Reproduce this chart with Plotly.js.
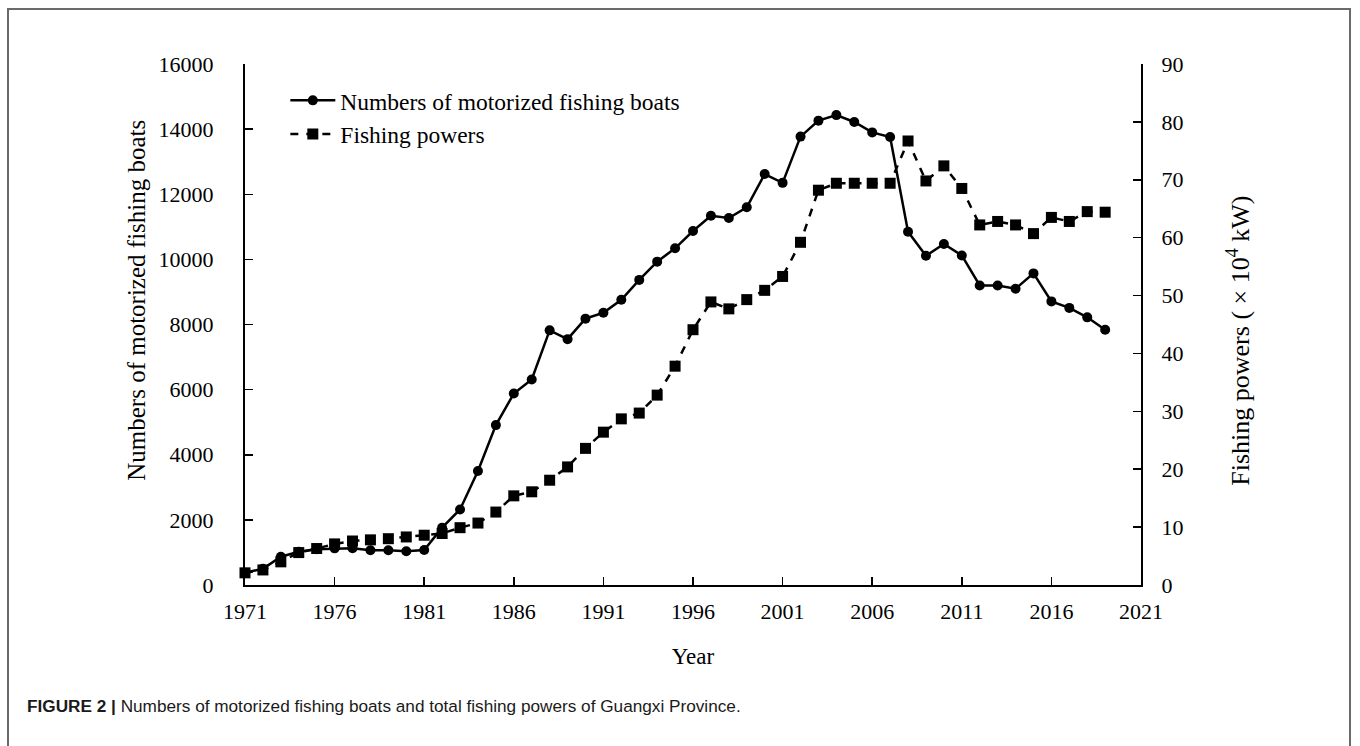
<!DOCTYPE html>
<html>
<head>
<meta charset="utf-8">
<script src="https://cdn.plot.ly/plotly-3.0.1.min.js"></script>
<style>
html,body{margin:0;padding:0;background:#fff;}
#chart{width:1360px;height:746px;}
</style>
</head>
<body>
<div id="chart"></div>
<script>
const years = [1971,1972,1973,1974,1975,1976,1977,1978,1979,1980,1981,1982,1983,1984,1985,1986,1987,1988,1989,1990,1991,1992,1993,1994,1995,1996,1997,1998,1999,2000,2001,2002,2003,2004,2005,2006,2007,2008,2009,2010,2011,2012,2013,2014,2015,2016,2017,2018,2019];
const boats = [380,500,870,1020,1100,1125,1130,1065,1065,1035,1075,1760,2320,3500,4910,5880,6310,7820,7550,8180,8360,8760,9370,9930,10340,10870,11340,11270,11600,12620,12350,13770,14260,14430,14220,13900,13760,10850,10110,10470,10120,9200,9200,9100,9570,8710,8510,8220,7840];
const powers = [2.1,2.6,4.0,5.6,6.3,7.1,7.6,7.8,8.0,8.3,8.6,8.9,9.9,10.7,12.6,15.4,16.1,18.1,20.4,23.6,26.4,28.7,29.7,32.8,37.8,44.1,48.9,47.7,49.3,50.9,53.3,59.2,68.2,69.4,69.4,69.4,69.4,76.7,69.8,72.4,68.5,62.2,62.8,62.2,60.7,63.5,62.8,64.5,64.4];
const xTicks = [1971,1976,1981,1986,1991,1996,2001,2006,2011,2016,2021];
const boatTicks = [0,2000,4000,6000,8000,10000,12000,14000,16000];
const powerTicks = [0,10,20,30,40,50,60,70,80,90];

const serif = "Liberation Serif, Times New Roman, serif";

const traces = [
  {
    x: years, y: boats, name: "Numbers of motorized fishing boats",
    type: "scatter", mode: "lines+markers", yaxis: "y", legendgroup: "a",
    line: {color: "#000", width: 2.5},
    marker: {symbol: "circle", size: 10, color: "#000"},
    cliponaxis: false
  },
  {
    x: years, y: powers, name: "Fishing powers",
    type: "scatter", mode: "lines+markers", yaxis: "y2", legendgroup: "b",
    line: {color: "#000", width: 2.5, dash: "8px,8px"},
    marker: {symbol: "square", size: 11, color: "#000"},
    cliponaxis: false
  }
];

const axisCommon = {
  showgrid: false, zeroline: false, showline: true, linecolor: "#000", linewidth: 2,
  ticks: "inside", ticklen: 8, tickwidth: 1.5, tickcolor: "#000",
  tickfont: {family: serif, size: 22, color: "#000"}
};

const layout = {
  width: 1360, height: 746,
  margin: {l: 245, r: 219, t: 64, b: 161},
  paper_bgcolor: "#fff", plot_bgcolor: "#fff",
  showlegend: true,
  legend: {
    x: 0.045, y: 0.972, xanchor: "left", yanchor: "top",
    font: {family: serif, size: 23.5, color: "#000"},
    bgcolor: "rgba(0,0,0,0)", itemwidth: 45,
    traceorder: "grouped", tracegroupgap: 0
  },
  xaxis: Object.assign({}, axisCommon, {
    range: [1971, 2021], tickvals: xTicks, ticktext: xTicks.map(String),
    ticklabelstandoff: 6,
    title: {text: "Year", font: {family: serif, size: 23, color: "#000"}, standoff: 24}
  }),
  yaxis: Object.assign({}, axisCommon, {
    range: [0, 16000], tickvals: boatTicks, ticktext: boatTicks.map(String),
    ticklabelstandoff: 25
  }),
  yaxis2: Object.assign({}, axisCommon, {
    range: [0, 90], tickvals: powerTicks, ticktext: powerTicks.map(String),
    overlaying: "y", side: "right", anchor: "x",
    ticklabelstandoff: 14
  }),
  annotations: [
    {text: "Numbers of motorized fishing boats", xref: "paper", yref: "paper",
     x: (137 - 245) / 896, y: (585.5 - 301) / 521.5, textangle: -90, showarrow: false,
     xanchor: "center", yanchor: "middle", font: {family: serif, size: 25, color: "#000"}},
    {text: "Fishing powers ( \u00D7 10<sup>4</sup> kW)", xref: "paper", yref: "paper",
     x: (1239 - 245) / 896, y: (585.5 - 341) / 521.5, textangle: -90, showarrow: false,
     xanchor: "center", yanchor: "middle", font: {family: serif, size: 26, color: "#000"}},
    {text: "<b>FIGURE 2 |</b> Numbers of motorized fishing boats and total fishing powers of Guangxi Province.",
     xref: "paper", yref: "paper", x: (25 - 245) / 896, y: (585.5 - 707) / 521.5,
     xanchor: "left", yanchor: "middle", showarrow: false,
     font: {family: "Liberation Sans, Arial, sans-serif", size: 17.2, color: "#1a1a1a"}}
  ],
  shapes: [
    {type: "rect", xref: "paper", yref: "paper",
     x0: (8 - 245) / 896, x1: (1350 - 245) / 896,
     y0: (585.5 - 770) / 521.5, y1: (585.5 - 9) / 521.5,
     line: {color: "#6a6a6a", width: 2}, fillcolor: "rgba(0,0,0,0)", layer: "below"}
  ]
};

Plotly.newPlot("chart", traces, layout, {displayModeBar: false, staticPlot: true});
</script>
</body>
</html>
